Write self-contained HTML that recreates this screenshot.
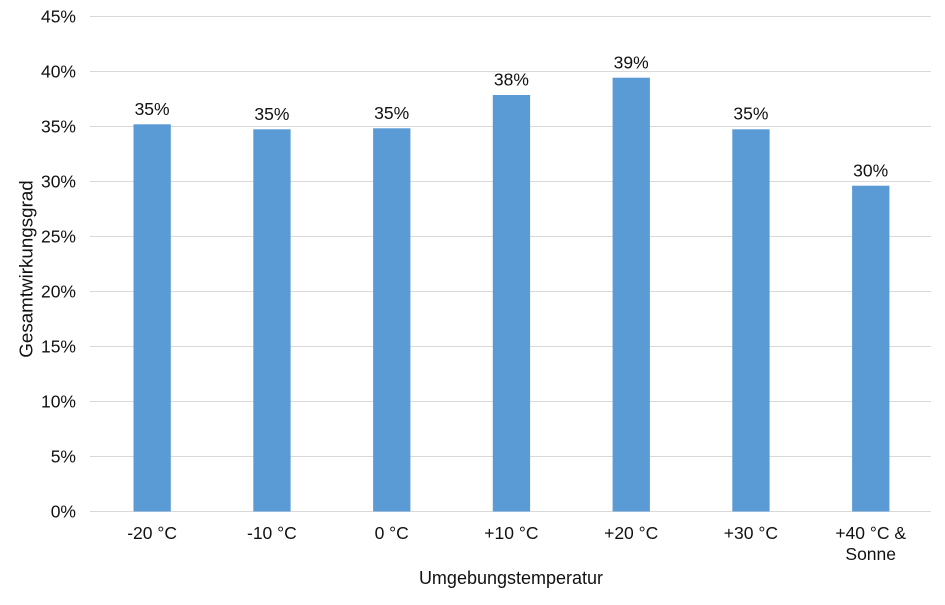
<!DOCTYPE html>
<html>
<head>
<meta charset="utf-8">
<style>
html,body{margin:0;padding:0;background:#fff;}
svg{display:block;}
text{font-family:"Liberation Sans",Arial,sans-serif;fill:#111;}
</style>
</head>
<body>
<svg width="945" height="605" viewBox="0 0 945 605" xmlns="http://www.w3.org/2000/svg">
<rect width="945" height="605" fill="#fff"/>
<g stroke="#d9d9d9" stroke-width="1">
<line x1="90" y1="16.5" x2="931" y2="16.5"/>
<line x1="90" y1="71.5" x2="931" y2="71.5"/>
<line x1="90" y1="126.5" x2="931" y2="126.5"/>
<line x1="90" y1="181.5" x2="931" y2="181.5"/>
<line x1="90" y1="236.5" x2="931" y2="236.5"/>
<line x1="90" y1="291.5" x2="931" y2="291.5"/>
<line x1="90" y1="346.5" x2="931" y2="346.5"/>
<line x1="90" y1="401.5" x2="931" y2="401.5"/>
<line x1="90" y1="456.5" x2="931" y2="456.5"/>
<line x1="90" y1="511.5" x2="931" y2="511.5"/>
</g>
<g font-size="17.5" text-anchor="end">
<text x="76" y="22.5">45%</text>
<text x="76" y="77.5">40%</text>
<text x="76" y="132.5">35%</text>
<text x="76" y="187.5">30%</text>
<text x="76" y="242.5">25%</text>
<text x="76" y="297.5">20%</text>
<text x="76" y="352.5">15%</text>
<text x="76" y="407.5">10%</text>
<text x="76" y="462.5">5%</text>
<text x="76" y="517.5">0%</text>
</g>
<g fill="#5b9bd5">
<rect x="133.5" y="124.3" width="37.3" height="387.2"/>
<rect x="253.3" y="129.3" width="37.3" height="382.2"/>
<rect x="373.1" y="128.3" width="37.3" height="383.2"/>
<rect x="492.8" y="95" width="37.3" height="416.5"/>
<rect x="612.6" y="77.7" width="37.3" height="433.8"/>
<rect x="732.3" y="129.3" width="37.3" height="382.2"/>
<rect x="852.1" y="185.7" width="37.3" height="325.8"/>
</g>
<g font-size="17.5" text-anchor="middle">
<text x="152.1" y="115">35%</text>
<text x="271.9" y="120">35%</text>
<text x="391.7" y="119">35%</text>
<text x="511.4" y="85.7">38%</text>
<text x="631.2" y="68.4">39%</text>
<text x="750.9" y="119.5">35%</text>
<text x="870.7" y="176.4">30%</text>
</g>
<g font-size="17.5" text-anchor="middle">
<text x="152.1" y="539">-20 °C</text>
<text x="271.9" y="539">-10 °C</text>
<text x="391.7" y="539">0 °C</text>
<text x="511.4" y="539">+10 °C</text>
<text x="631.2" y="539">+20 °C</text>
<text x="750.9" y="539">+30 °C</text>
<text x="870.7" y="539">+40 °C &amp;</text>
<text x="870.7" y="560">Sonne</text>
</g>
<text x="511" y="584" font-size="18" text-anchor="middle">Umgebungstemperatur</text>
<text transform="translate(32.5,269) rotate(-90)" font-size="18.8" text-anchor="middle">Gesamtwirkungsgrad</text>
</svg>
</body>
</html>
